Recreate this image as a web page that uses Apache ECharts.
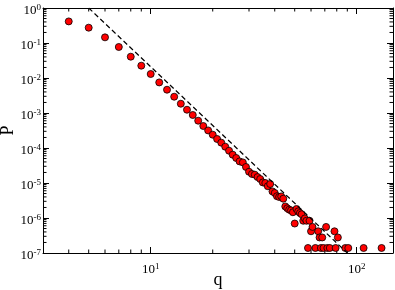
<!DOCTYPE html>
<html><head><meta charset="utf-8">
<script src="https://cdn.jsdelivr.net/npm/echarts@6/dist/echarts.min.js"></script>
<style>html,body{margin:0;padding:0;background:#fff}#c{width:395px;height:290px}</style>
</head><body><div id="c"></div>
<script>
// degree q and probability P
const qValues = [4,5,6,7,8,9,10,11,12,13,14,15,16,17,18,19,20,21,22,23,24,25,26,27,28,29,30,31,32,33,34,35,36,37,38,39,40,41,42,43,44,45,46,47,48,49,50,51,52,53,54,55,56,57,58,59,60,61,63,65,66,67,68,69,71,72,74,78,79,81,88,91,108,132];
const pValues = [0.414,0.274,0.145,0.0769,0.0406,0.0225,0.0130,0.00748,0.00463,0.00292,0.00184,0.00124,0.000877,0.000603,0.000425,0.000318,0.000240,0.000181,0.000142,0.000109,8.37e-5,6.44e-5,5.18e-5,4.14e-5,3.88e-5,2.87e-5,2.10e-5,1.81e-5,1.73e-5,1.48e-5,1.30e-5,1.04e-5,1.0e-5,8.1e-6,9.36e-6,5.75e-6,5.18e-6,4.2e-6,3.98e-6,4.14e-6,3.56e-6,2.14e-6,1.90e-6,1.73e-6,1.65e-6,1.46e-6,6.95e-7,1.81e-6,1.55e-6,1.39e-6,1.28e-6,8.34e-7,9.73e-7,8.34e-7,1.39e-7,8.34e-7,4.17e-7,5.56e-7,1.39e-7,4.17e-7,2.78e-7,1.39e-7,2.78e-7,1.39e-7,5.56e-7,1.39e-7,1.39e-7,4.17e-7,1.39e-7,2.78e-7,1.39e-7,1.39e-7,1.39e-7,1.39e-7];
// dashed power-law guide line
const fitQ = [5, 90];
const fitP = [1, 1e-7];
// axis ranges and minor ticks
const xRange = [3, 150];
const yRange = [1e-7, 1];
const xMinorTicks = [4,5,6,7,8,9,20,30,40,50,60,70,80,90];
const yMinorMantissas = [2,3,4,5,6,7,8,9];
const yMinorDecades = [-7,-6,-5,-4,-3,-2,-1];

const FONT = 'Liberation Serif';
const yMinorTicks = [];
yMinorDecades.forEach(e => yMinorMantissas.forEach(m => yMinorTicks.push(m * Math.pow(10, e))));

function powLabel(v) {
  const e = Math.log10(v);
  const r = Math.round(e);
  if (Math.abs(e - r) > 1e-6) return '';
  return '{b|10}{s|' + r + '}';
}
const rich = {
  b: {fontFamily: FONT, fontSize: 13, color: '#000', lineHeight: 14, verticalAlign: 'bottom'},
  s: {fontFamily: FONT, fontSize: 9, color: '#000', lineHeight: 8, verticalAlign: 'top'}
};
const line = {show: true, onZero: false, lineStyle: {color: '#000', width: 1}};
const tick = {show: true, inside: true, length: 6, lineStyle: {color: '#000', width: 1}};

const chart = echarts.init(document.getElementById('c'), null, {renderer: 'canvas'});
chart.setOption({
  animation: false,
  backgroundColor: '#fff',
  grid: {left: 43, right: 2, top: 8, bottom: 37, containLabel: false, outerBoundsMode: 'none'},
  xAxis: [
    {type: 'log', logBase: 10, min: xRange[0], max: xRange[1], position: 'bottom',
     axisLine: line, axisTick: tick, splitLine: {show: false},
     axisLabel: {formatter: powLabel, margin: 9, rich: rich, showMinLabel: false, showMaxLabel: false},
     name: 'q', nameLocation: 'middle', nameGap: 18, nameMoveOverlap: false,
     nameTextStyle: {fontFamily: FONT, fontSize: 18, color: '#000'}},
    {type: 'log', logBase: 10, min: xRange[0], max: xRange[1], position: 'top',
     axisLine: line, axisTick: tick, splitLine: {show: false}, axisLabel: {show: false}}
  ],
  yAxis: [
    {type: 'log', logBase: 10, min: yRange[0], max: yRange[1], position: 'left',
     axisLine: line, axisTick: tick, splitLine: {show: false},
     axisLabel: {formatter: powLabel, margin: 2, rich: rich, padding: [5, 0, 0, 0]},
     name: 'P', nameLocation: 'middle', nameGap: 26, nameMoveOverlap: false,
     nameTextStyle: {fontFamily: FONT, fontSize: 18, color: '#000'}},
    {type: 'log', logBase: 10, min: yRange[0], max: yRange[1], position: 'right',
     axisLine: line, axisTick: tick, splitLine: {show: false}, axisLabel: {show: false}}
  ],
  series: [
    {type: 'custom', silent: true, xAxisIndex: 0, yAxisIndex: 0,
     data: xMinorTicks.map(v => [v, 1e-3]),
     renderItem: function (params, api) {
       const x = api.coord([api.value(0), 1e-3])[0];
       const cs = params.coordSys;
       const st = {stroke: '#000', lineWidth: 1};
       return {type: 'group', children: [
         {type: 'line', shape: {x1: x, y1: cs.y + cs.height, x2: x, y2: cs.y + cs.height - 3.5}, style: st},
         {type: 'line', shape: {x1: x, y1: cs.y, x2: x, y2: cs.y + 3.5}, style: st}
       ]};
     }},
    {type: 'custom', silent: true, xAxisIndex: 0, yAxisIndex: 0,
     data: yMinorTicks.map(v => [10, v]),
     renderItem: function (params, api) {
       const y = api.coord([10, api.value(1)])[1];
       const cs = params.coordSys;
       const st = {stroke: '#000', lineWidth: 1};
       return {type: 'group', children: [
         {type: 'line', shape: {x1: cs.x, y1: y, x2: cs.x + 3.5, y2: y}, style: st},
         {type: 'line', shape: {x1: cs.x + cs.width, y1: y, x2: cs.x + cs.width - 3.5, y2: y}, style: st}
       ]};
     }},
    {type: 'line', silent: true, symbol: 'none', xAxisIndex: 0, yAxisIndex: 0,
     data: fitQ.map((q, i) => [q, fitP[i]]),
     lineStyle: {color: '#000', width: 1.2, type: [5, 3]}},
    {type: 'scatter', xAxisIndex: 0, yAxisIndex: 0, symbol: 'circle', symbolSize: 7,
     data: qValues.map((q, i) => [q, pValues[i]]),
     itemStyle: {color: '#ff0000', borderColor: '#000', borderWidth: 0.8, opacity: 1}}
  ]
});
</script>
</body></html>
